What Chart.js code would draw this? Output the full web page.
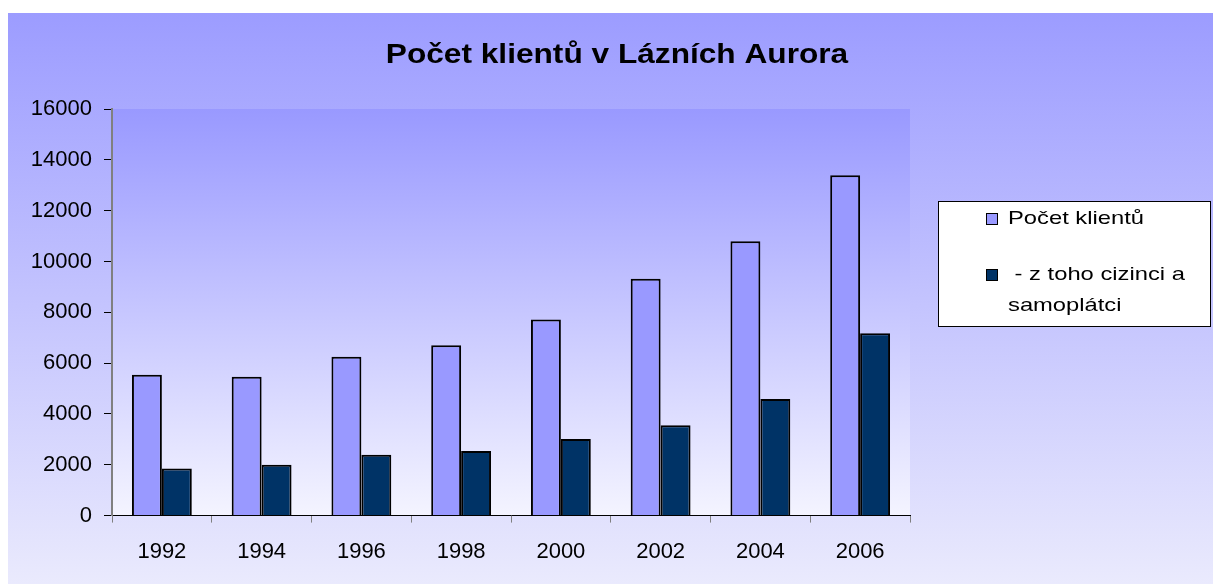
<!DOCTYPE html>
<html>
<head>
<meta charset="utf-8">
<script src="https://cdn.jsdelivr.net/npm/chart.js@4/dist/chart.umd.min.js"></script>
<style>
  html, body { margin: 0; padding: 0; background: #fff; }
  #wrap { width: 1213px; height: 584px; }
</style>
</head>
<body>
<div id="wrap"><canvas id="lazneChart"></canvas></div>
<script>
// Data
const years = ['1992', '1994', '1996', '1998', '2000', '2002', '2004', '2006'];
const clients = [5540, 5460, 6250, 6700, 7720, 9320, 10800, 13390];
const foreigners = [1850, 2000, 2390, 2540, 3010, 3560, 4590, 7180];
const seriesLabels = [['Počet klientů'], [' - z toho cizinci a', 'samoplátci']];
const yTicks = [0, 2000, 4000, 6000, 8000, 10000, 12000, 14000, 16000];
const titleText = 'Počet klientů v Lázních Aurora';

const FONT = "'Liberation Sans', Arial, sans-serif";

// Background: outer gradient panel + plot area gradient
const backgroundPlugin = {
    id: 'panelBackground',
    beforeDraw(chart) {
        const ctx = chart.ctx;
        const area = chart.chartArea;
        ctx.save();
        ctx.fillStyle = '#ffffff';
        ctx.fillRect(0, 0, chart.width, chart.height);

        const outer = ctx.createLinearGradient(0, 13, 0, chart.height);
        outer.addColorStop(0, '#9c9cff');
        outer.addColorStop(1, '#eaeafd');
        ctx.fillStyle = outer;
        ctx.fillRect(8, 13, chart.width - 8, chart.height - 13);

        const inner = ctx.createLinearGradient(0, area.top, 0, area.bottom);
        inner.addColorStop(0, '#9999ff');
        inner.addColorStop(1, '#f4f4ff');
        ctx.fillStyle = inner;
        ctx.fillRect(area.left, area.top, area.right - area.left, area.bottom - area.top);
        ctx.restore();
    }
};

// Stretched text, the original chart had wide glyphs
function wideText(ctx, text, x, y, sx) {
    ctx.save();
    ctx.translate(x, y);
    ctx.scale(sx, 1);
    ctx.fillText(text, 0, 0);
    ctx.restore();
}

// Title + boxed legend on the right, with wrapped second label
const boxLegendPlugin = {
    id: 'boxLegend',
    afterDraw(chart) {
        const ctx = chart.ctx;
        ctx.save();
        ctx.fillStyle = '#000';
        ctx.font = 'bold 28px ' + FONT;
        ctx.textBaseline = 'middle';
        ctx.textAlign = 'center';
        wideText(ctx, titleText, 617, 55, 1.13);

        const x = 938, y = 201, w = 273, h = 126;
        ctx.fillStyle = '#ffffff';
        ctx.fillRect(x, y, w, h);
        ctx.strokeStyle = '#000000';
        ctx.lineWidth = 1;
        ctx.strokeRect(x + 0.5, y + 0.5, w - 1, h - 1);

        ctx.font = '19px ' + FONT;
        ctx.textAlign = 'left';
        const rows = [219, 275];
        chart.data.datasets.forEach((ds, i) => {
            const cy = rows[i];
            ctx.fillStyle = ds.backgroundColor;
            ctx.fillRect(986, cy - 6, 12, 12);
            ctx.strokeStyle = '#000';
            ctx.strokeRect(986.5, cy - 5.5, 11, 11);
            ctx.fillStyle = '#000';
            seriesLabels[i].forEach((line, j) => {
                wideText(ctx, line, 1008, cy + j * 31, 1.25);
            });
        });
        ctx.restore();
    }
};

const ctx = document.getElementById('lazneChart').getContext('2d');
new Chart(ctx, {
    type: 'bar',
    data: {
        labels: years,
        datasets: [{
            label: seriesLabels[0].join(' '),
            data: clients,
            backgroundColor: '#9999ff',
            borderColor: '#000000',
            borderWidth: 2,
            categoryPercentage: 0.6,
            barPercentage: 1.0
        }, {
            label: seriesLabels[1].join(' '),
            data: foreigners,
            backgroundColor: '#003366',
            borderColor: '#000000',
            borderWidth: 2,
            categoryPercentage: 0.6,
            barPercentage: 1.0
        }]
    },
    options: {
        responsive: true,
        maintainAspectRatio: false,
        animation: false,
        layout: { padding: { left: 8, right: 303, top: 109, bottom: 3 } },
        plugins: {
            legend: { display: false },
            tooltip: { enabled: false },
            title: { display: false }
        },
        scales: {
            x: {
                grid: {
                    display: true,
                    drawOnChartArea: false,
                    offset: true,
                    tickLength: 7,
                    color: '#808080'
                },
                border: { display: true, color: '#000000', width: 1 },
                ticks: {
                    color: '#000',
                    font: { family: FONT, size: 22 },
                    padding: 16
                }
            },
            y: {
                min: 0,
                max: 16000,
                afterBuildTicks(scale) {
                    scale.ticks = yTicks.map(v => ({ value: v }));
                },
                afterFit(scale) { scale.width = 104; },
                grid: {
                    display: true,
                    drawOnChartArea: false,
                    tickLength: 8,
                    color: '#000000'
                },
                border: { display: true, color: '#808080', width: 2 },
                ticks: {
                    color: '#000',
                    font: { family: FONT, size: 22 },
                    padding: 12,
                    callback: v => String(v)
                }
            }
        }
    },
    plugins: [backgroundPlugin, boxLegendPlugin]
});
</script>
</body>
</html>
